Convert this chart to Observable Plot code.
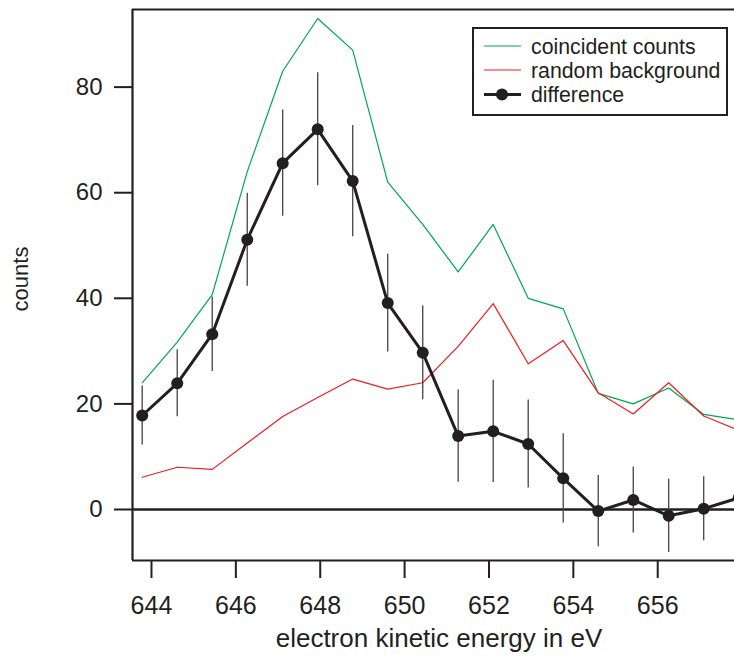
<!DOCTYPE html>
<html>
<head>
<meta charset="utf-8">
<script src="https://cdn.jsdelivr.net/npm/d3@7"></script>
<script src="https://cdn.jsdelivr.net/npm/@observablehq/plot@0.6"></script>
<style>
  html, body { margin: 0; padding: 0; background: #fff; overflow: hidden; }
  #chart svg { display: block; }
</style>
</head>
<body>
<div id="chart"></div>
<script>
// ---- data ----
const energy = [643.78, 644.61, 645.44, 646.27, 647.11, 647.94, 648.77, 649.60, 650.43,
                651.27, 652.10, 652.93, 653.76, 654.59, 655.42, 656.26, 657.09, 657.92];
const coincident = [24, 31.7, 40.7, 64, 83, 93, 87, 62, 54, 45, 54, 40, 38, 22, 20, 23, 18, 17];
const background = [6.1, 8.0, 7.6, 12.6, 17.6, 21.2, 24.7, 22.8, 24.0, 30.9, 39.0, 27.6, 32, 22.1, 18.1, 24, 17.7, 15.0];
const difference = [17.8, 23.9, 33.2, 51.1, 65.6, 72.0, 62.2, 39.1, 29.7, 13.9, 14.8, 12.4, 5.9, -0.3, 1.8, -1.2, 0.15, 2.2];
const diffError = [5.6, 6.35, 7.05, 8.8, 10.05, 10.7, 10.55, 9.25, 8.9, 8.75, 9.7, 8.35, 8.45, 6.75, 6.25, 6.95, 6.05, 6.0];
const xTicks = [644, 646, 648, 650, 652, 654, 656];
const yTicks = [0, 20, 40, 60, 80];
const xDomain = [643.55, 657.82];
const yDomain = [-9.66, 94.7];
const legendLabels = ["coincident counts", "random background", "difference"];

const GREEN = "#00a651", RED = "#ed1c24", INK = "#231f20";

const data = energy.map((e, i) => ({
  energy: e,
  coincident: coincident[i],
  background: background[i],
  difference: difference[i],
  lo: difference[i] - diffError[i],
  hi: difference[i] + diffError[i]
}));

const chart = Plot.plot({
  width: 734,
  height: 657,
  marginLeft: 132,
  marginRight: 0,
  marginTop: 9,
  marginBottom: 97,
  x: {domain: xDomain},
  y: {domain: yDomain},
  style: {fontFamily: "'Liberation Sans', Arial, sans-serif", fontSize: "24px", color: INK, background: "white"},
  marks: [
    Plot.ruleY([0], {stroke: INK, strokeWidth: 2.7}),
    Plot.line(data, {x: "energy", y: "coincident", stroke: GREEN, strokeWidth: 1.2, clip: true}),
    Plot.line(data, {x: "energy", y: "background", stroke: RED, strokeWidth: 1.2, clip: true}),
    Plot.ruleX(data, {x: "energy", y1: "lo", y2: "hi", stroke: "#444", strokeWidth: 1.3, clip: true}),
    Plot.line(data, {x: "energy", y: "difference", stroke: INK, strokeWidth: 3, clip: true}),
    Plot.dot(data, {x: "energy", y: "difference", r: 6, fill: INK, stroke: "none", clip: true}),
    Plot.axisX({ticks: xTicks, tickSize: 18, tickPadding: 18, fontSize: 25, strokeWidth: 2, stroke: INK, label: null, tickFormat: d => String(d)}),
    Plot.axisY({ticks: yTicks, tickSize: 18, tickPadding: 12, strokeWidth: 2, stroke: INK, label: null}),
    Plot.ruleX([xDomain[0]], {stroke: INK, strokeWidth: 2.2}),
    Plot.ruleY([yDomain[1]], {stroke: INK, strokeWidth: 2.2}),
    Plot.ruleY([yDomain[0]], {stroke: INK, strokeWidth: 2.2})
  ]
});

document.getElementById("chart").appendChild(chart);

// axis titles and legend
const svg = d3.select(chart);
const font = "'Liberation Sans', Arial, sans-serif";

svg.append("text")
  .attr("x", 439).attr("y", 647)
  .attr("text-anchor", "middle")
  .attr("font-family", font).attr("font-size", 26).attr("fill", INK)
  .text("electron kinetic energy in eV");

svg.append("text")
  .attr("transform", "translate(28,279) rotate(-90)")
  .attr("text-anchor", "middle")
  .attr("font-family", font).attr("font-size", 22).attr("fill", INK)
  .text("counts");

const lg = svg.append("g");
lg.append("rect")
  .attr("x", 473).attr("y", 28).attr("width", 254).attr("height", 87)
  .attr("fill", "white").attr("stroke", INK).attr("stroke-width", 2);
const legendColors = [GREEN, RED, INK];
const legendY = [46, 70, 94.5];
legendLabels.forEach((lab, i) => {
  lg.append("line")
    .attr("x1", 484).attr("x2", 521).attr("y1", legendY[i]).attr("y2", legendY[i])
    .attr("stroke", legendColors[i]).attr("stroke-width", i === 2 ? 3 : 1.2);
  if (i === 2) {
    lg.append("circle").attr("cx", 502).attr("cy", legendY[i]).attr("r", 6).attr("fill", INK);
  }
  lg.append("text")
    .attr("x", 531).attr("y", legendY[i] + 7.5)
    .attr("text-anchor", "start")
    .attr("font-family", font).attr("font-size", 21.3).attr("fill", INK)
    .text(lab);
});
</script>
</body>
</html>
